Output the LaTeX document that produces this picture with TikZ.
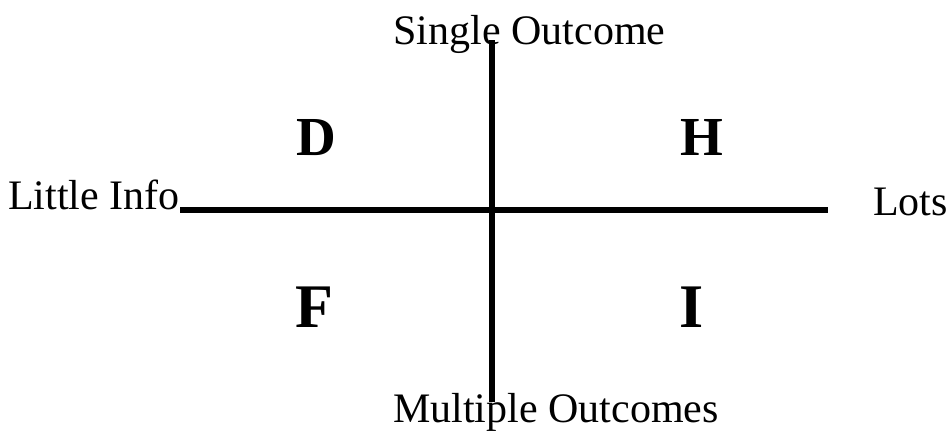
\documentclass[tikz,border=0pt]{standalone}
\usepackage{fontspec}
\setmainfont{Liberation Serif}
\begin{document}
\begin{tikzpicture}[x=1pt,y=-1pt,
  axislabel/.style={font=\fontsize{42}{48}\selectfont, inner sep=0pt, anchor=base},
  quad/.style={font=\fontsize{55}{60}\selectfont\bfseries, inner sep=0pt, anchor=base},
  quadb/.style={font=\fontsize{62}{66}\selectfont\bfseries, inner sep=0pt, anchor=base},
  axisline/.style={line width=6pt}]
\useasboundingbox (0,0) rectangle (950,437);
\coordinate (top) at (492,40);
\coordinate (bot) at (492,402);
\coordinate (left) at (180,210);
\coordinate (right) at (828,210);
\draw[axisline] (top) -- (bot);
\draw[axisline] (left) -- (right);
\node[axislabel] (so) at (529.5,44) {Single Outcome};
\node[axislabel, anchor=base west] (mo) at (393,422) {Multiple Outcomes};
\node[axislabel, anchor=base west] (li) at (8,209) {Little Info};
\node[axislabel, anchor=base west] (lots) at (873,215) {Lots};
\node[quad] (d) at (316,155) {D};
\node[quad] (h) at (701.5,155) {H};
\node[quadb] (f) at (314.5,327) {F};
\node[quadb] (i) at (691.5,327) {I};
\end{tikzpicture}
\end{document}
